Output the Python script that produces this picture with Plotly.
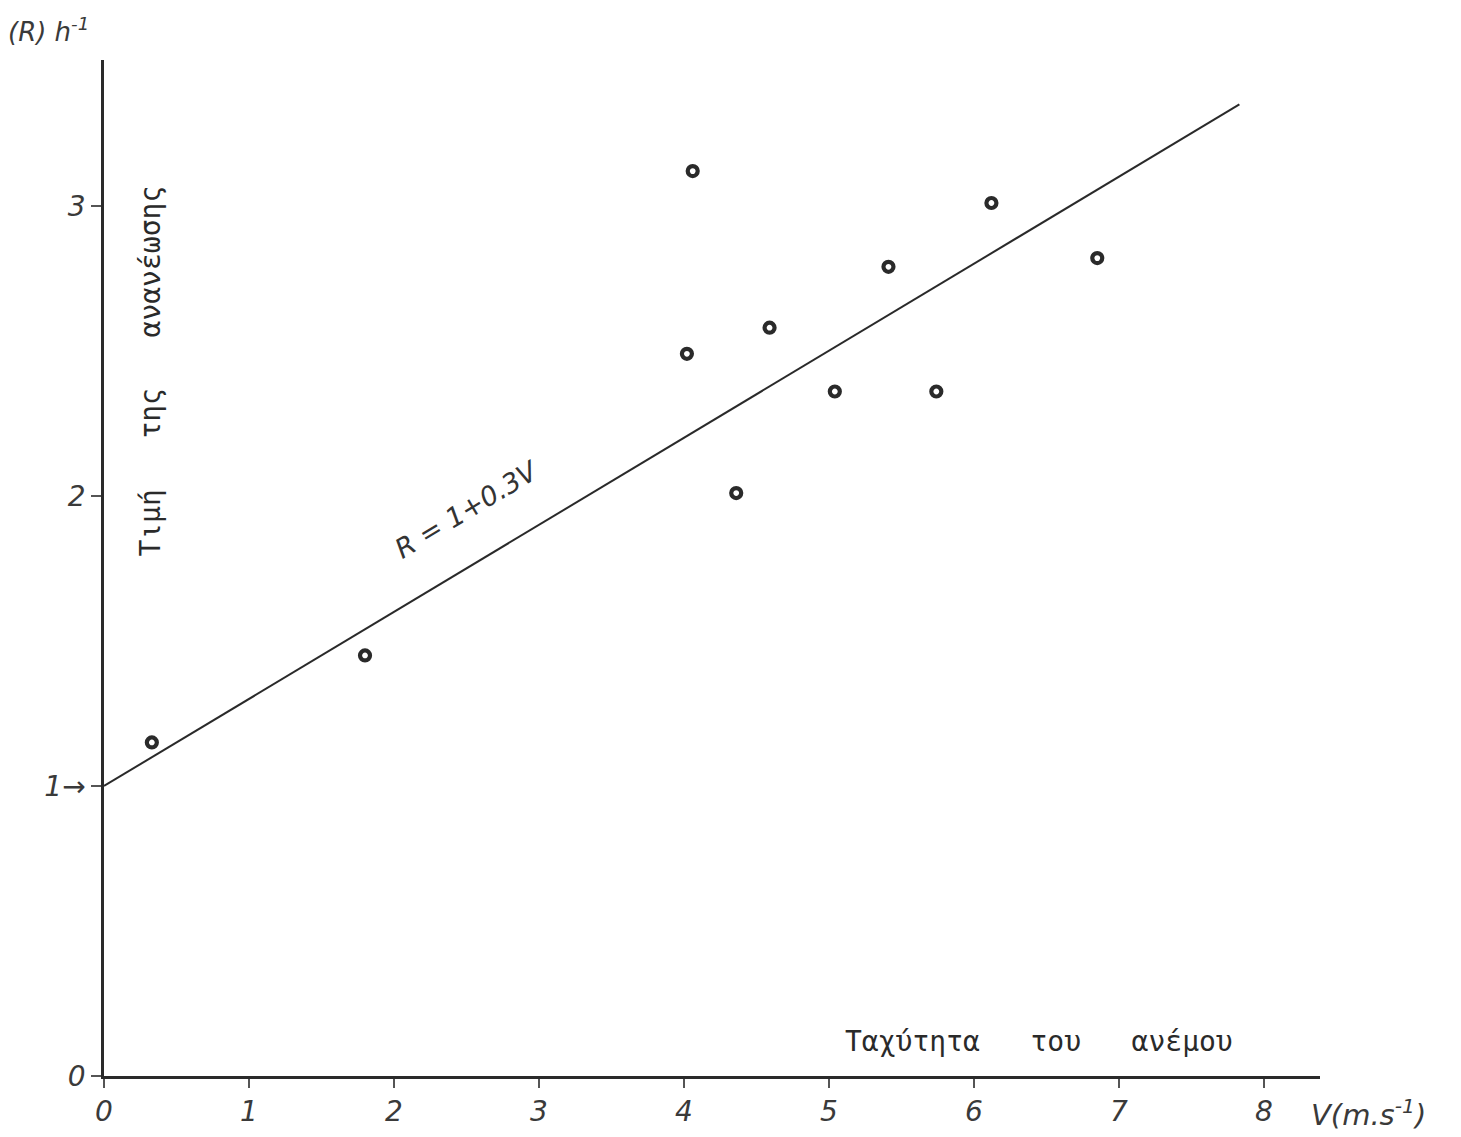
import plotly.graph_objects as go

# Data
wind_speed = [0.33, 1.80, 4.06, 4.02, 4.36, 4.59, 5.04, 5.41, 5.74, 6.12, 6.85]
renewal_rate = [1.15, 1.45, 3.12, 2.49, 2.01, 2.58, 2.36, 2.79, 2.36, 3.01, 2.82]

fit_v = [0.0, 7.83]
fit_r = [1.0, 3.35]

x_ticks = [0, 1, 2, 3, 4, 5, 6, 7, 8]
x_ticktext = ["0", "1", "2", "3", "4", "5", "6", "7", "8"]
y_ticks = [0, 1, 2, 3]
y_ticktext = ["0", "1→", "2", "3"]

INK = "#2a2a2a"
hand = dict(family="DejaVu Sans", size=28, color="#3a3a3a", style="italic")
mono = dict(family="DejaVu Sans Mono", size=28, color=INK)
NB = "\u00a0"

fig = go.Figure()

fig.add_trace(go.Scatter(
    x=fit_v, y=fit_r, mode="lines",
    line=dict(color=INK, width=2),
    hoverinfo="skip", showlegend=False,
))

fig.add_trace(go.Scatter(
    x=wind_speed, y=renewal_rate, mode="markers",
    marker=dict(symbol="circle-open", size=10, color=INK, line=dict(width=4.2, color=INK)),
    showlegend=False,
))

fig.update_xaxes(
    range=[0, 8.386], tickvals=x_ticks, ticktext=x_ticktext,
    showline=True, linecolor=INK, linewidth=2.5,
    ticks="outside", ticklen=9, tickwidth=2, tickcolor="#555",
    showgrid=False, zeroline=False, tickfont=hand, automargin=False,
)
fig.update_yaxes(
    range=[0, 3.503], tickvals=y_ticks, ticktext=y_ticktext,
    showline=True, linecolor=INK, linewidth=2.5,
    ticks="outside", ticklen=10, tickwidth=1.5, tickcolor="#555",
    showgrid=False, zeroline=False, tickfont=hand, automargin=False,
)

annotations = [
    dict(text="(R) h<sup>-1</sup>", xref="paper", yref="paper",
         x=-0.081, y=1.03, xanchor="left", yanchor="middle",
         showarrow=False, font=dict(hand, size=26)),
    dict(text="V(m.s<sup>-1</sup>)", xref="paper", yref="paper",
         x=1.04, y=-0.036, xanchor="center", yanchor="middle",
         showarrow=False, font=dict(hand, size=29)),
    dict(text=f"Ταχύτητα{NB*3}του{NB*3}ανέμου", xref="x", yref="y",
         x=7.8, y=0.12, xanchor="right", yanchor="middle",
         showarrow=False, font=mono),
    dict(text=f"Τιμή{NB*3}της{NB*3}ανανέωσης", xref="x", yref="y",
         x=0.32, y=2.43, xanchor="center", yanchor="middle", textangle=-90,
         showarrow=False, font=mono),
    dict(text="R = 1+0.3V", xref="x", yref="y",
         x=2.5, y=1.75, xanchor="center", yanchor="bottom", textangle=-31,
         showarrow=False, yshift=1, font=dict(family="DejaVu Sans", size=27, color="#333", style="italic")),
]

fig.update_layout(
    width=1461, height=1137,
    margin=dict(l=96, r=149, t=52, b=69),
    paper_bgcolor="white", plot_bgcolor="white",
    annotations=annotations,
)

fig.write_html("out.html")
